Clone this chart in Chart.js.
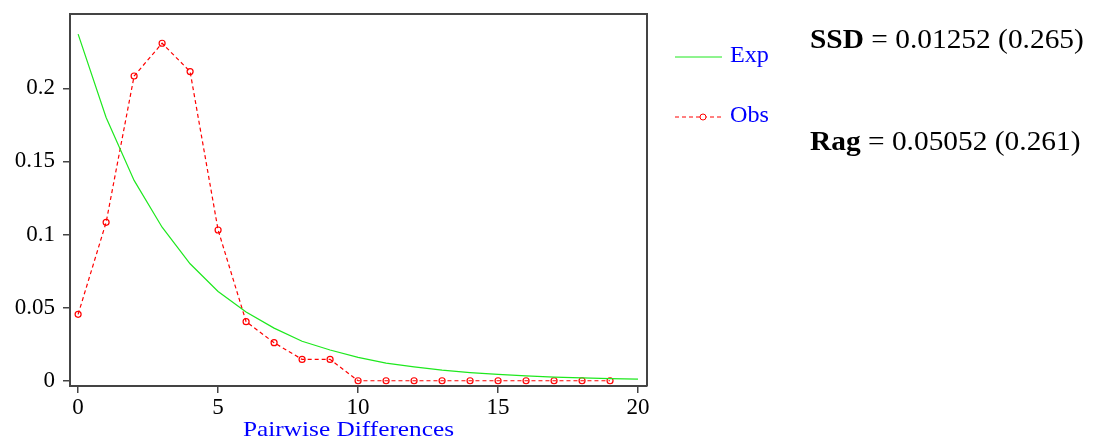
<!DOCTYPE html>
<html>
<head>
<meta charset="utf-8">
<script src="https://cdn.jsdelivr.net/npm/chart.js@4"></script>
<style>
  html, body { margin: 0; padding: 0; background: #fff; }
  #wrap { width: 1097px; height: 441px; position: relative; }
</style>
</head>
<body>
<div id="wrap"><canvas id="chart"></canvas></div>
<script>
// values
const diffs = [0, 1, 2, 3, 4, 5, 6, 7, 8, 9, 10, 11, 12, 13, 14, 15, 16, 17, 18, 19, 20];
const expValues = [0.237, 0.180, 0.137, 0.105, 0.080, 0.061, 0.047, 0.036, 0.027, 0.021,
  0.016, 0.012, 0.0095, 0.0073, 0.0056, 0.0043, 0.0033, 0.0025, 0.0019, 0.0015, 0.0011];
const obsValues = [0.0454, 0.1083, 0.2084, 0.2308, 0.2114, 0.1031, 0.0404, 0.026, 0.0146, 0.0146,
  0, 0, 0, 0, 0, 0, 0, 0, 0, 0];
const xTicks = [0, 5, 10, 15, 20];
const yTicks = [0, 0.05, 0.1, 0.15, 0.2];
const yTickLabels = ['0', '0.05', '0.1', '0.15', '0.2'];
const seriesNames = ['Exp', 'Obs'];
const stats = [
  { name: 'SSD', text: ' = 0.01252 (0.265)' },
  { name: 'Rag', text: ' = 0.05052 (0.261)' }
];

const FRAME = '#444444';
const SERIF = "'Liberation Serif', 'Times New Roman', serif";

// draw text a bit wider than the font gives (the original looks stretched)
function wideText(ctx, text, x, y, sx) {
  ctx.save();
  ctx.translate(x, y);
  ctx.scale(sx, 1);
  ctx.fillText(text, 0, 0);
  ctx.restore();
  return ctx.measureText(text).width * sx;
}

// frame, axis title, legend and stats text
const extras = {
  id: 'extras',
  beforeDatasetsDraw(chart) {
    const { ctx, chartArea: a } = chart;
    ctx.save();
    ctx.strokeStyle = FRAME;
    ctx.lineWidth = 2;
    ctx.beginPath();
    ctx.moveTo(a.left, a.top);
    ctx.lineTo(a.right, a.top);
    ctx.lineTo(a.right, a.bottom);
    ctx.stroke();
    ctx.restore();
  },
  afterDraw(chart) {
    const { ctx, chartArea: a } = chart;
    ctx.save();
    ctx.textBaseline = 'alphabetic';
    ctx.textAlign = 'left';

    // x axis title
    ctx.fillStyle = '#0000ff';
    ctx.font = '22px ' + SERIF;
    const title = 'Pairwise Differences';
    const tw = ctx.measureText(title).width * 1.15;
    wideText(ctx, title, (a.left + a.right) / 2 - 10 - tw / 2, 436, 1.15);

    // legend
    const legendY = [57, 117];
    chart.data.datasets.forEach((ds, i) => {
      const y = legendY[i];
      ctx.strokeStyle = ds.borderColor;
      ctx.lineWidth = 1;
      ctx.setLineDash(ds.borderDash || []);
      ctx.beginPath();
      ctx.moveTo(675, y);
      ctx.lineTo(722, y);
      ctx.stroke();
      ctx.setLineDash([]);
      if (ds.pointRadius > 0) {
        ctx.fillStyle = '#fff';
        ctx.beginPath();
        ctx.arc(703, y, ds.pointRadius, 0, Math.PI * 2);
        ctx.fill();
        ctx.stroke();
      }
      ctx.fillStyle = '#0000ff';
      ctx.font = '23px ' + SERIF;
      wideText(ctx, ds.label, 730, y + 5, 1.05);
    });

    // statistics
    const statY = [48, 150];
    stats.forEach((s, i) => {
      ctx.fillStyle = '#000';
      ctx.font = 'bold 28px ' + SERIF;
      const w = wideText(ctx, s.name, 810, statY[i], 1.05);
      ctx.font = '28px ' + SERIF;
      wideText(ctx, s.text, 810 + w, statY[i], 1.05);
    });
    ctx.restore();
  }
};

const ctx = document.getElementById('chart').getContext('2d');
new Chart(ctx, {
  type: 'line',
  data: {
    datasets: [
      {
        label: seriesNames[0],
        data: diffs.map((d, i) => ({ x: d, y: expValues[i] })),
        borderColor: '#1ee81e',
        borderWidth: 1.2,
        pointRadius: 0,
        tension: 0
      },
      {
        label: seriesNames[1],
        data: obsValues.map((v, i) => ({ x: diffs[i], y: v })),
        borderColor: '#ff0000',
        borderWidth: 1.2,
        borderDash: [4, 3],
        pointRadius: 3,
        pointStyle: 'circle',
        pointBorderWidth: 1.2,
        pointBackgroundColor: 'rgba(255,255,255,0)',
        pointBorderColor: '#ff0000',
        tension: 0
      }
    ]
  },
  options: {
    responsive: true,
    maintainAspectRatio: false,
    animation: false,
    layout: { padding: { top: 14, right: 450, left: 0, bottom: 0 } },
    plugins: { legend: { display: false }, tooltip: { enabled: false } },
    scales: {
      x: {
        type: 'linear',
        min: -0.29,
        max: 20.32,
        afterBuildTicks: (scale) => { scale.ticks = xTicks.map(v => ({ value: v })); },
        afterFit: (scale) => { scale.height = 55; scale.paddingLeft = 0; scale.paddingRight = 0; },
        grid: { drawOnChartArea: false, drawTicks: true, tickLength: 7, color: FRAME, lineWidth: 1.5 },
        border: { display: true, color: FRAME, width: 2 },
        ticks: { color: '#000', font: { family: SERIF, size: 23 }, padding: 1, maxRotation: 0 }
      },
      y: {
        min: -0.0036,
        max: 0.2508,
        afterBuildTicks: (scale) => { scale.ticks = yTicks.map(v => ({ value: v })); },
        afterFit: (scale) => { scale.width = 70; scale.paddingTop = 0; scale.paddingBottom = 0; },
        grid: { drawOnChartArea: false, drawTicks: true, tickLength: 7, color: FRAME, lineWidth: 1.5 },
        border: { display: true, color: FRAME, width: 2 },
        ticks: {
          color: '#000',
          font: { family: SERIF, size: 23 },
          padding: 8,
          callback: (v) => { const i = yTicks.indexOf(v); return i >= 0 ? yTickLabels[i] : ''; }
        }
      }
    }
  },
  plugins: [extras]
});
</script>
</body>
</html>
